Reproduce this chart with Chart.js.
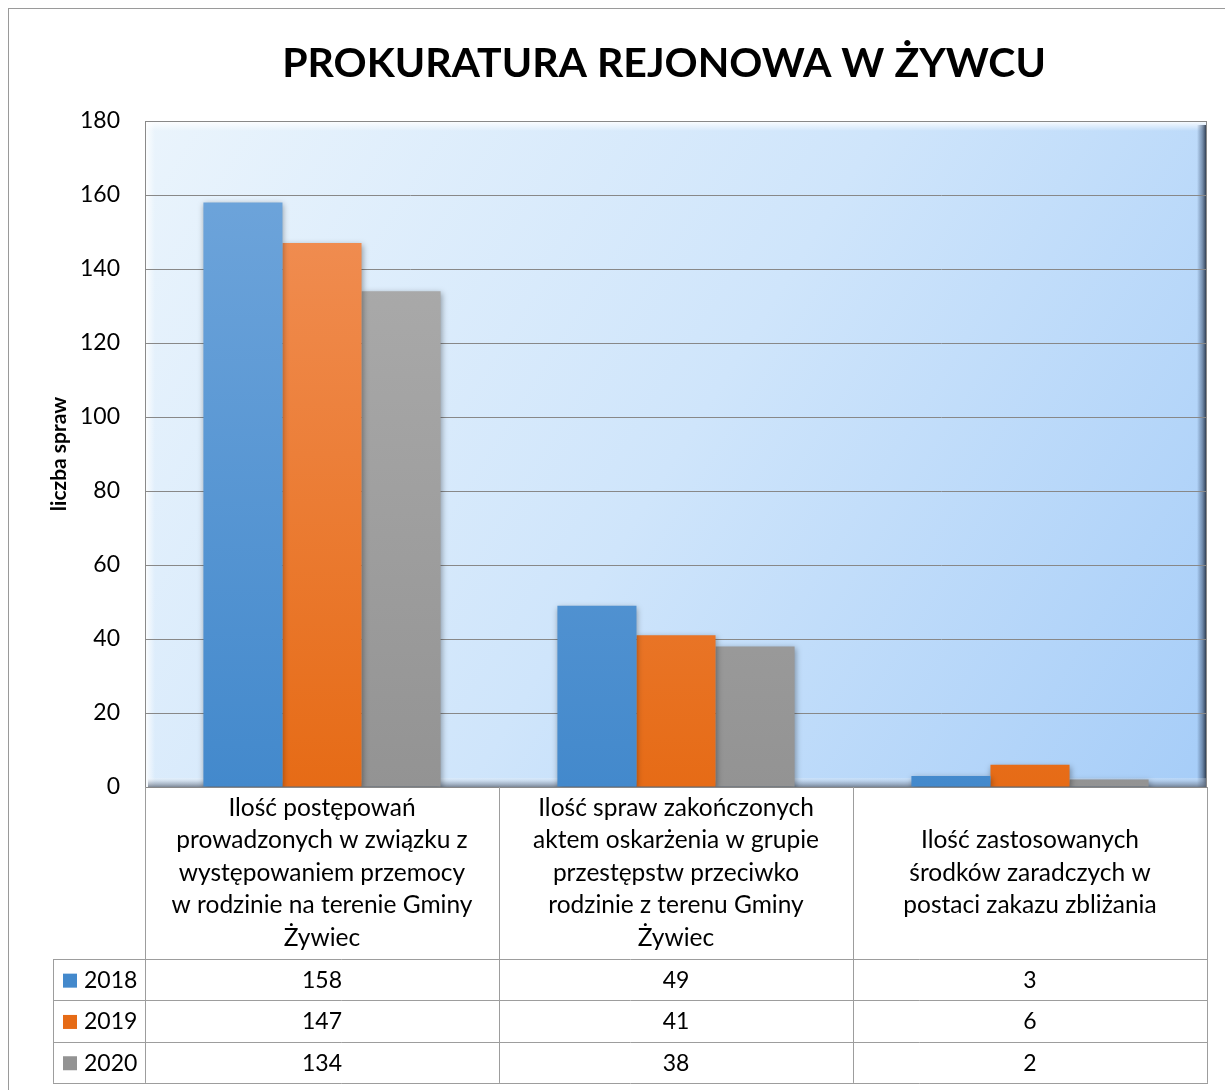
<!DOCTYPE html>
<html>
<head>
<meta charset="utf-8">
<script src="https://cdn.jsdelivr.net/npm/chart.js@4.4.1/dist/chart.umd.min.js"></script>
<style>
    html, body { margin: 0; padding: 0; background: #fff; }
    #wrap { position: relative; width: 1225px; height: 1090px; }
</style>
</head>
<body>
<div id="wrap"><canvas id="chart" width="1225" height="1090"></canvas></div>
<script>
// Chart data
const chartTitle = 'PROKURATURA REJONOWA W ŻYWCU';
const axisTitle = 'liczba spraw';
const categories = [
    ['Ilość postępowań', 'prowadzonych w związku z', 'występowaniem przemocy', 'w rodzinie na terenie Gminy', 'Żywiec'],
    ['Ilość spraw zakończonych', 'aktem oskarżenia w grupie', 'przestępstw przeciwko', 'rodzinie z terenu Gminy', 'Żywiec'],
    ['Ilość zastosowanych', 'środków zaradczych w', 'postaci zakazu zbliżania']
];
const years = ['2018', '2019', '2020'];
const values2018 = [158, 49, 3];
const values2019 = [147, 41, 6];
const values2020 = [134, 38, 2];
const yTicks = { min: 0, max: 180, step: 20 };

const FONT = "Lato, 'Open Sans', sans-serif";

// colours per series: [top, bottom]
const seriesColors = [
    ['#72a7dc', '#4389cc'],
    ['#f2935c', '#e66b16'],
    ['#b0b0b0', '#939393']
];

function barGradient(idx) {
    return (context) => {
        const { chart } = context;
        const area = chart.chartArea;
        if (!area) return seriesColors[idx][1];
        const g = chart.ctx.createLinearGradient(0, area.top, 0, area.bottom);
        g.addColorStop(0, seriesColors[idx][0]);
        g.addColorStop(1, seriesColors[idx][1]);
        return g;
    };
}

// Plot background with bevelled wall and floor
const wallPlugin = {
    id: 'wall',
    beforeDraw(chart) {
        const { ctx, chartArea: a } = chart;
        ctx.save();
        // outer frame of the chart
        ctx.strokeStyle = '#9a9a9a';
        ctx.lineWidth = 1;
        ctx.strokeRect(8.5, 8.5, 1240, 1100);

        const bg = ctx.createLinearGradient(a.left, a.top, a.right, a.bottom);
        bg.addColorStop(0, '#eaf4fc');
        bg.addColorStop(0.5, '#cfe5fb');
        bg.addColorStop(1, '#a6cdf8');
        ctx.fillStyle = bg;
        ctx.fillRect(a.left, a.top, a.right - a.left, a.bottom - a.top);

        const b = 10;
        // top highlight
        let g = ctx.createLinearGradient(0, a.top, 0, a.top + b);
        g.addColorStop(0, 'rgba(255,255,255,0.95)');
        g.addColorStop(1, 'rgba(255,255,255,0)');
        ctx.fillStyle = g;
        ctx.fillRect(a.left, a.top, a.right - a.left, b);
        // left highlight
        g = ctx.createLinearGradient(a.left, 0, a.left + b, 0);
        g.addColorStop(0, 'rgba(255,255,255,0.95)');
        g.addColorStop(1, 'rgba(255,255,255,0)');
        ctx.fillStyle = g;
        ctx.fillRect(a.left, a.top, b, a.bottom - a.top);
        // right shade
        g = ctx.createLinearGradient(a.right - b, 0, a.right, 0);
        g.addColorStop(0, 'rgba(40,60,90,0)');
        g.addColorStop(0.5, 'rgba(60,80,110,0.5)');
        g.addColorStop(1, 'rgba(20,30,45,0.95)');
        ctx.fillStyle = g;
        ctx.fillRect(a.right - b, a.top + 4, b, a.bottom - a.top - 4);
        // floor
        g = ctx.createLinearGradient(0, a.bottom - 9, 0, a.bottom);
        g.addColorStop(0, 'rgba(255,255,255,0.2)');
        g.addColorStop(0.5, 'rgba(150,160,175,0.45)');
        g.addColorStop(1, 'rgba(100,110,125,0.8)');
        ctx.fillStyle = g;
        ctx.fillRect(a.left + 3, a.bottom - 9, a.right - a.left - 3, 9);

        ctx.strokeStyle = '#8a8a8a';
        ctx.strokeRect(a.left + 0.5, a.top + 0.5, a.right - a.left - 1, a.bottom - a.top);
        ctx.restore();
    },
    beforeDatasetsDraw(chart) {
        const ctx = chart.ctx;
        ctx.save();
        ctx.shadowColor = 'rgba(0,0,0,0.35)';
        ctx.shadowBlur = 6;
        ctx.shadowOffsetX = 1;
        ctx.shadowOffsetY = 2;
    },
    afterDatasetsDraw(chart) {
        chart.ctx.restore();
    }
};

// Title and data table under the plot
const tablePlugin = {
    id: 'dataTable',
    afterDraw(chart) {
        const { ctx, chartArea: a, scales } = chart;
        const x = scales.x;
        const n = categories.length;
        const colW = (a.right - a.left) / n;
        const headerBottom = a.bottom + 172;
        const rowH = 41.3;
        const legendLeft = 53;
        const tableBottom = headerBottom + rowH * years.length;

        ctx.save();
        // title
        ctx.fillStyle = '#000';
        ctx.font = `bold 41px ${FONT}`;
        ctx.textAlign = 'center';
        ctx.textBaseline = 'middle';
        ctx.fillText(chartTitle, 664, 64);

        // grid lines of the table
        ctx.strokeStyle = '#9d9d9d';
        ctx.lineWidth = 1;
        ctx.beginPath();
        for (let i = 0; i <= n; i++) {
            const px = Math.round(a.left + colW * i) + 0.5;
            ctx.moveTo(px, a.bottom);
            ctx.lineTo(px, tableBottom);
        }
        ctx.moveTo(legendLeft + 0.5, headerBottom);
        ctx.lineTo(legendLeft + 0.5, tableBottom);
        for (let r = 0; r <= years.length; r++) {
            const py = Math.round(headerBottom + rowH * r) + 0.5;
            ctx.moveTo(legendLeft, py);
            ctx.lineTo(a.right + 1, py);
        }
        ctx.stroke();

        // header labels
        ctx.font = `24.5px ${FONT}`;
        const lineH = 32.5;
        const midY = (a.bottom + headerBottom) / 2;
        categories.forEach((lines, i) => {
            const cx = x.getPixelForValue(i);
            const startY = midY - (lines.length - 1) * lineH / 2;
            lines.forEach((t, j) => ctx.fillText(t, cx, startY + j * lineH));
        });

        // value rows
        const rows = [values2018, values2019, values2020];
        ctx.font = `23px ${FONT}`;
        rows.forEach((vals, r) => {
            const cy = headerBottom + rowH * r + rowH / 2 + 1;
            vals.forEach((v, i) => {
                ctx.fillText(String(v), x.getPixelForValue(i), cy);
            });
            // legend key
            ctx.fillStyle = seriesColors[r][1];
            ctx.fillRect(63, cy - 7, 14, 14);
            ctx.fillStyle = '#000';
            ctx.textAlign = 'left';
            ctx.fillText(years[r], 84, cy);
            ctx.textAlign = 'center';
        });
        ctx.restore();
    }
};

const ctx = document.getElementById('chart').getContext('2d');
new Chart(ctx, {
    type: 'bar',
    data: {
        labels: categories,
        datasets: [
            { label: years[0], data: values2018, backgroundColor: barGradient(0) },
            { label: years[1], data: values2019, backgroundColor: barGradient(1) },
            { label: years[2], data: values2020, backgroundColor: barGradient(2) }
        ]
    },
    options: {
        responsive: false,
        animation: false,
        datasets: {
            bar: { categoryPercentage: 0.67, barPercentage: 1.0, borderWidth: 0 }
        },
        layout: {
            padding: { top: 121, right: 18, bottom: 303, left: 0 }
        },
        plugins: {
            legend: { display: false },
            title: { display: false },
            tooltip: { enabled: false }
        },
        scales: {
            x: {
                display: false
            },
            y: {
                min: yTicks.min,
                max: yTicks.max,
                afterFit: (scale) => { scale.width = 145; },
                border: { display: false },
                grid: { color: '#888888', lineWidth: 1, drawTicks: false },
                ticks: {
                    stepSize: yTicks.step,
                    padding: 25,
                    color: '#000',
                    font: { family: FONT, size: 23 }
                },
                title: {
                    display: true,
                    text: axisTitle,
                    color: '#000',
                    font: { family: FONT, size: 21, weight: 'bold' },
                    padding: { top: 47, bottom: 0 }
                }
            }
        }
    },
    plugins: [wallPlugin, tablePlugin]
});
</script>
</body>
</html>
